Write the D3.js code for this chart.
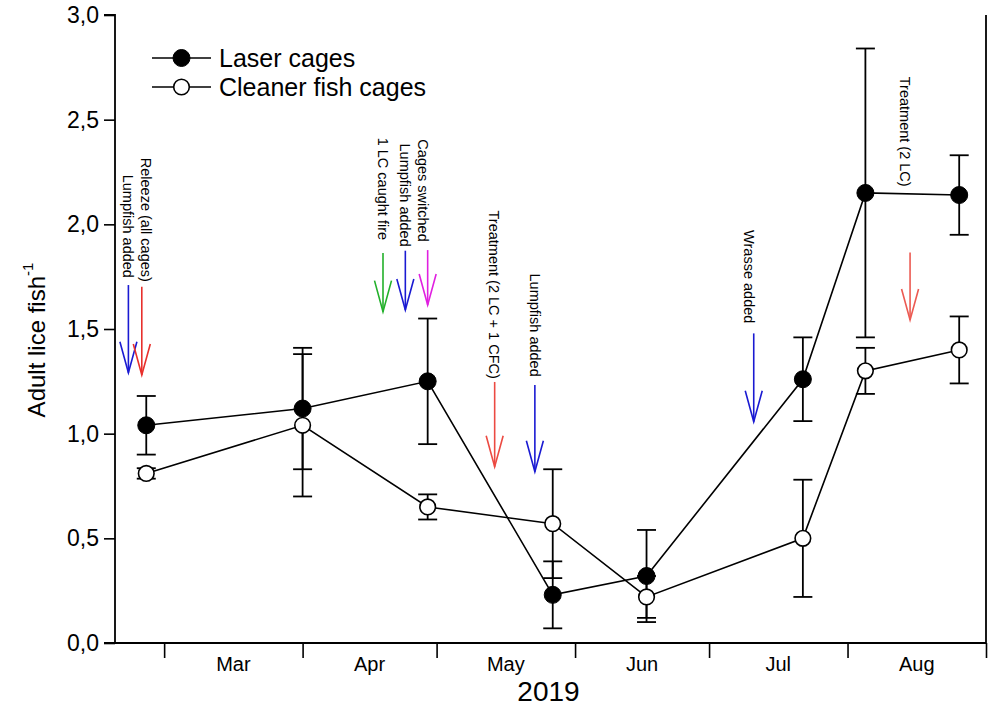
<!DOCTYPE html>
<html>
<head>
<meta charset="utf-8">
<script src="https://cdn.jsdelivr.net/npm/d3@7"></script>
<style>
  body { margin: 0; background: #fff; }
  svg { display: block; }
  text { font-family: "Liberation Sans", Arial, Helvetica, sans-serif; fill: #000; }
</style>
</head>
<body>
<svg id="chart" width="988" height="707"></svg>
<script>
// Sampling dates and adult lice per fish (mean ± error) for each cage group
const sampleDates  = ["2019-02-25", "2019-04-01", "2019-04-29", "2019-05-27", "2019-06-17", "2019-07-22", "2019-08-05", "2019-08-26"];
const laserMean    = [1.04, 1.12, 1.25, 0.23, 0.32, 1.26, 2.15, 2.14];
const laserErr     = [0.14, 0.29, 0.30, 0.16, 0.22, 0.20, 0.69, 0.19];
const cleanerMean  = [0.81, 1.04, 0.65, 0.57, 0.22, 0.50, 1.30, 1.40];
const cleanerErr   = [0.025, 0.34, 0.06, 0.26, 0.10, 0.28, 0.11, 0.16];

const seriesNames  = ["Laser cages", "Cleaner fish cages"];
const yTicks       = [0, 0.5, 1.0, 1.5, 2.0, 2.5, 3.0];
const monthLabels  = ["Mar", "Apr", "May", "Jun", "Jul", "Aug"];
const xDomain      = ["2019-02-18", "2019-09-01"];

// Event notes: rotated text, anchored at its lower end (value on the y axis)
const noteTexts    = ["Lumpfish added", "Releeze (all cages)", "1 LC caught fire", "Lumpfish added", "Cages switched",
                      "Treatment (2 LC + 1 CFC)", "Lumpfish added", "Wrasse added", "Treatment (2 LC)"];
const noteDates    = ["2019-02-21", "2019-02-25", "2019-04-19", "2019-04-24", "2019-04-28",
                      "2019-05-14", "2019-05-23", "2019-07-10", "2019-08-14"];
const noteEnds     = [1.744, 1.725, 1.925, 1.893, 1.917, 1.262, 1.272, 1.527, 2.180];

// Event arrows: date, top and tip values, colour
const arrowDates   = ["2019-02-21", "2019-02-24", "2019-04-19", "2019-04-24", "2019-04-29",
                      "2019-05-14", "2019-05-23", "2019-07-11", "2019-08-15"];
const arrowTops    = [1.710, 1.702, 1.863, 1.874, 1.877, 1.247, 1.232, 1.479, 1.865];
const arrowTips    = [1.291, 1.280, 1.583, 1.591, 1.615, 0.842, 0.818, 1.057, 1.543];
const arrowColors  = ["#1a1ad2", "#e8302c", "#22b02a", "#1a1ad2", "#e020e0",
                      "#ec4a42", "#1a1ad2", "#1a1ad2", "#ec5a52"];

const parse = d3.timeParse("%Y-%m-%d");
const svg = d3.select("#chart");

const margin = { left: 115, right: 986, top: 15, bottom: 643 };
const x = d3.scaleTime().domain(xDomain.map(parse)).range([margin.left, margin.right]);
const y = d3.scaleLinear().domain([0, 3]).range([margin.bottom, margin.top]);

const commaFmt = v => d3.format(".1f")(v).replace(".", ",");

// Y axis
const yAxis = svg.append("g")
  .attr("transform", `translate(${margin.left},0)`)
  .call(d3.axisLeft(y).tickValues(yTicks).tickSize(11).tickPadding(5).tickFormat(commaFmt));
yAxis.select(".domain").attr("stroke-width", 1.8).attr("d", `M-11,${y(3)}H0V${y(0)}H-11`);
yAxis.selectAll(".tick line").attr("stroke-width", 1.6);
yAxis.selectAll(".tick text").attr("font-size", 23).attr("font-family", "Liberation Sans, Arial, sans-serif");

// X axis: month boundaries as ticks, labels centred in each month
const monthStarts = d3.timeMonth.range(parse("2019-03-01"), parse("2019-09-02"));
const xAxis = svg.append("g")
  .attr("transform", `translate(0,${margin.bottom})`)
  .call(d3.axisBottom(x).tickValues(monthStarts).tickSize(15).tickFormat(""));
xAxis.select(".domain").attr("stroke-width", 1.8).attr("d", `M${margin.left},0H${margin.right}`);
xAxis.selectAll(".tick line").attr("stroke-width", 1.6);

svg.append("g").selectAll("text")
  .data(monthLabels)
  .join("text")
  .attr("x", (d, i) => (x(monthStarts[i]) + x(monthStarts[i + 1])) / 2)
  .attr("y", 671)
  .attr("text-anchor", "middle")
  .attr("font-size", 20)
  .text(d => d);

// Right frame line
svg.append("line")
  .attr("x1", x(parse(xDomain[1]))).attr("x2", x(parse(xDomain[1])))
  .attr("y1", y(3)).attr("y2", y(0))
  .attr("stroke", "#000").attr("stroke-width", 1.8);

// Axis titles
svg.append("text")
  .attr("x", (margin.left + margin.right) / 2 - 2)
  .attr("y", 701)
  .attr("text-anchor", "middle")
  .attr("font-size", 28)
  .text("2019");

const yTitle = svg.append("text")
  .attr("transform", `translate(45,340) rotate(-90)`)
  .attr("text-anchor", "middle")
  .attr("font-size", 24);
yTitle.append("tspan").text("Adult lice fish");
yTitle.append("tspan").attr("font-size", 15).attr("dy", "-0.8em").text("-1");

// Event arrows
const arrowData = arrowDates.map((d, i) => ({ date: parse(d), top: arrowTops[i], tip: arrowTips[i], color: arrowColors[i] }));
const arrows = svg.append("g").selectAll("g").data(arrowData).join("g")
  .attr("stroke", d => d.color).attr("stroke-width", 1.6).attr("fill", "none");
arrows.append("line")
  .attr("x1", d => x(d.date)).attr("x2", d => x(d.date))
  .attr("y1", d => y(d.top)).attr("y2", d => y(d.tip));
arrows.append("path")
  .attr("d", d => {
    const cx = x(d.date), ty = y(d.tip);
    return `M${cx - 8.5},${ty - 31}L${cx},${ty}L${cx + 8.5},${ty - 31}`;
  });

// Event notes (read top to bottom)
svg.append("g").selectAll("text")
  .data(noteTexts.map((t, i) => ({ t, date: parse(noteDates[i]), end: noteEnds[i] })))
  .join("text")
  .attr("transform", d => `translate(${x(d.date)},${y(d.end)}) rotate(90)`)
  .attr("text-anchor", "end")
  .attr("dy", "0.36em")
  .attr("font-size", 14.5)
  .text(d => d.t);

// Series data
const rows = sampleDates.map((d, i) => ({
  date: parse(d),
  laser: laserMean[i], laserErr: laserErr[i],
  cleaner: cleanerMean[i], cleanerErr: cleanerErr[i]
}));

const line = key => d3.line().x(d => x(d.date)).y(d => y(d[key]));

const plot = svg.append("g");
["laser", "cleaner"].forEach(key => {
  plot.append("path")
    .datum(rows)
    .attr("d", line(key))
    .attr("fill", "none").attr("stroke", "#000").attr("stroke-width", 1.6);
});

// Error bars
["laser", "cleaner"].forEach(key => {
  const g = plot.append("g").attr("stroke", "#000").attr("stroke-width", 1.8).attr("fill", "none");
  const eb = g.selectAll("g").data(rows).join("g");
  eb.append("line")
    .attr("x1", d => x(d.date)).attr("x2", d => x(d.date))
    .attr("y1", d => y(d[key] + d[key + "Err"])).attr("y2", d => y(d[key] - d[key + "Err"]));
  [1, -1].forEach(s => {
    eb.append("line")
      .attr("x1", d => x(d.date) - 9.5).attr("x2", d => x(d.date) + 9.5)
      .attr("y1", d => y(d[key] + s * d[key + "Err"])).attr("y2", d => y(d[key] + s * d[key + "Err"]));
  });
});

// Markers
plot.append("g").selectAll("circle").data(rows).join("circle")
  .attr("cx", d => x(d.date)).attr("cy", d => y(d.laser)).attr("r", 8.5)
  .attr("fill", "#000").attr("stroke", "#000").attr("stroke-width", 1);
plot.append("g").selectAll("circle").data(rows).join("circle")
  .attr("cx", d => x(d.date)).attr("cy", d => y(d.cleaner)).attr("r", 7.8)
  .attr("fill", "#fff").attr("stroke", "#000").attr("stroke-width", 1.6);

// Legend
const legendY = [58, 87];
const legend = svg.append("g").selectAll("g").data(seriesNames).join("g")
  .attr("transform", (d, i) => `translate(0,${legendY[i]})`);
legend.append("line").attr("x1", 152).attr("x2", 211).attr("stroke", "#000").attr("stroke-width", 1.6);
legend.append("circle").attr("cx", 181.5).attr("r", (d, i) => i === 0 ? 8.5 : 7.8)
  .attr("fill", (d, i) => i === 0 ? "#000" : "#fff").attr("stroke", "#000").attr("stroke-width", (d, i) => i === 0 ? 1 : 1.6);
legend.append("text").attr("x", 219).attr("dy", "0.36em").attr("font-size", 25).text(d => d);
</script>
</body>
</html>
